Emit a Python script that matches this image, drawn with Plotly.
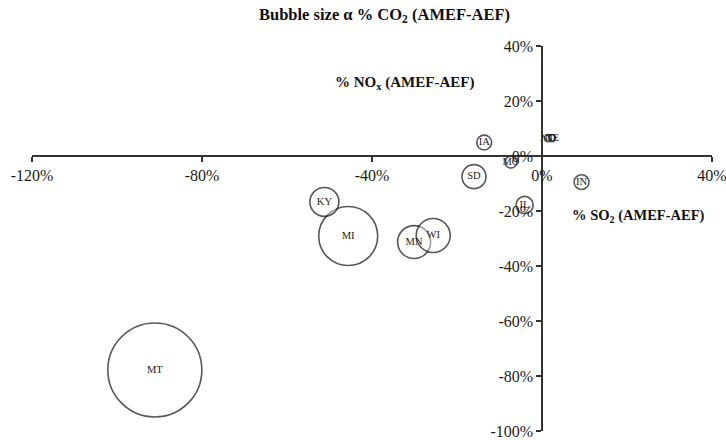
import plotly.graph_objects as go

states = ["MT", "MI", "KY", "MN", "WI", "SD", "IA", "MO", "IL", "IN", "ND", "NE"]
so2_pct = [-91.1, -45.6, -51.2, -30.1, -25.6, -16.0, -13.6, -7.3, -4.1, 9.3, 1.4, 2.4]
nox_pct = [-77.8, -29.1, -16.7, -31.3, -28.9, -7.5, 4.9, -2.2, -17.8, -9.5, 6.5, 6.5]
co2_size = [100, 39.4, 9.5, 12.3, 13.1, 6.5, 2.5, 1.6, 3.3, 2.5, 0.55, 0.55]

x_ticks = [-120, -80, -40, 0, 40]
y_ticks = [40, 20, 0, -20, -40, -60, -80, -100]
x_range = [-120, 40]
y_range = [-100, 40]

serif = "Liberation Serif, Times New Roman, serif"

fig = go.Figure()
fig.add_trace(go.Scatter(
    x=so2_pct, y=nox_pct, text=states,
    mode="markers+text",
    textposition="middle center",
    textfont=dict(family=serif, size=10.5, color="#222"),
    marker=dict(
        size=co2_size, sizemode="area", sizeref=2 * 100 / 94**2,
        color="rgba(255,255,255,0.6)",
        line=dict(color="#111", width=1.6),
    ),
    hoverinfo="skip",
    showlegend=False,
    cliponaxis=False,
))

axis_common = dict(
    showgrid=False, zeroline=False, showline=True,
    linecolor="#333", linewidth=1.5,
    ticks="outside", ticklen=5, tickwidth=1.5, tickcolor="#333",
    tickfont=dict(family=serif, size=16, color="#1a1a1a"),
    anchor="free", automargin=False, ticklabeloverflow="allow",
)

fig.update_layout(
    width=726, height=440,
    margin=dict(l=32, r=14, t=46, b=9),
    plot_bgcolor="white", paper_bgcolor="white",
    xaxis=dict(range=x_range, tickvals=x_ticks,
               ticktext=[f"{v}%" for v in x_ticks],
               position=(0 - y_range[0]) / (y_range[1] - y_range[0]),
               **axis_common),
    yaxis=dict(range=y_range, tickvals=y_ticks,
               ticktext=[f"{v}%" for v in y_ticks],
               position=(0 - x_range[0]) / (x_range[1] - x_range[0]),
               **axis_common),
    annotations=[
        dict(text="<b>Bubble size α % CO<sub>2</sub> (AMEF-AEF)</b>",
             xref="paper", yref="paper", x=(384 - 32) / 680, y=1 + (46 - 15) / 385,
             xanchor="center", yanchor="middle",
             showarrow=False, font=dict(family=serif, size=16.5, color="#111")),
        dict(text="<b>% NO<sub>x</sub> (AMEF-AEF)</b>",
             xref="paper", yref="paper", x=(404 - 32) / 680, y=1 - (83 - 46) / 385,
             xanchor="center", yanchor="middle",
             showarrow=False, font=dict(family=serif, size=15, color="#111")),
        dict(text="<b>% SO<sub>2</sub> (AMEF-AEF)</b>",
             xref="paper", yref="paper", x=(638 - 32) / 680, y=1 - (216 - 46) / 385,
             xanchor="center", yanchor="middle",
             showarrow=False, font=dict(family=serif, size=14.5, color="#111")),
    ],
)

fig.write_html("out.html")
